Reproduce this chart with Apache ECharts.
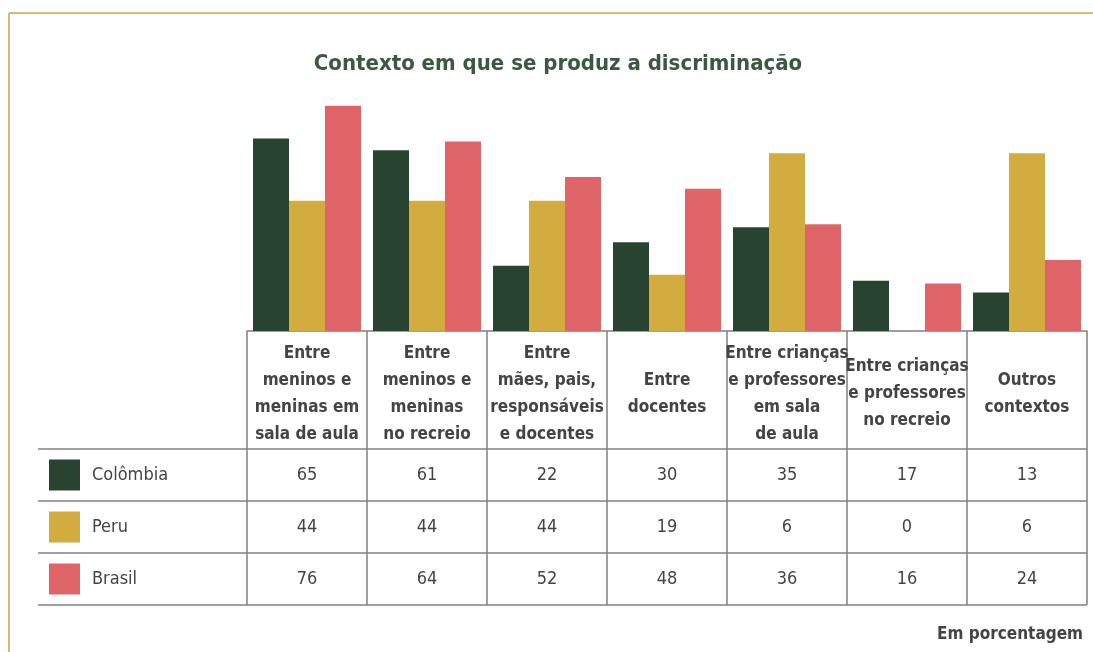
<!DOCTYPE html>
<html>
<head>
<meta charset="utf-8">
<title>Contexto em que se produz a discriminação</title>
<script src="https://cdn.jsdelivr.net/npm/echarts@6/dist/echarts.min.js"></script>
<style>
  html, body { margin: 0; padding: 0; background: #fff; }
  #chart { width: 1093px; height: 652px; }
</style>
</head>
<body>
<div id="chart"></div>
<script>
const categories = [
  "Entre\nmeninos e\nmeninas em\nsala de aula",
  "Entre\nmeninos e\nmeninas\nno recreio",
  "Entre\nmães, pais,\nresponsáveis\ne docentes",
  "Entre\ndocentes",
  "Entre crianças\ne professores\nem sala\nde aula",
  "Entre crianças\ne professores\nno recreio",
  "Outros\ncontextos"
];
const countries = ["Colômbia", "Peru", "Brasil"];
const colombia = [65, 61, 22, 30, 35, 17, 13];
const peru = [44, 44, 44, 19, 60, 0, 60];   // bar heights as drawn
const brasil = [76, 64, 52, 48, 36, 16, 24];
// values as printed in the table (Peru row differs from its bars)
const colombiaPrinted = ["65", "61", "22", "30", "35", "17", "13"];
const peruPrinted = ["44", "44", "44", "19", "6", "0", "6"];
const brasilPrinted = ["76", "64", "52", "48", "36", "16", "24"];
const colors = ["#284430", "#d2ac3e", "#de6468"];

const FONT = "'Liberation Sans Narrow', 'DejaVu Sans Condensed', sans-serif";
const LINE = "#808080";
const TEXT = "#444444";

const chart = echarts.init(document.getElementById("chart"));

const option = {
  animation: false,
  textStyle: { fontFamily: FONT },
  title: {
    text: "Contexto em que se produz a discriminação",
    left: 553,
    textAlign: "center",
    top: 48,
    textStyle: { fontFamily: FONT, fontSize: 22, fontWeight: "bold", color: "#3b5840" }
  },
  grid: { left: 247, right: 6, top: 94, bottom: 321 },
  xAxis: {
    type: "category",
    data: categories,
    axisLine: { lineStyle: { color: LINE, width: 1.5 } },
    axisTick: { show: true, interval: 0, length: 274, lineStyle: { color: LINE, width: 1.5 } },
    axisLabel: {
      interval: 0,
      margin: 63,
      verticalAlign: "middle",
      fontFamily: FONT,
      fontSize: 17,
      fontWeight: "bold",
      lineHeight: 27,
      color: TEXT
    }
  },
  yAxis: { type: "value", min: 0, max: 80, show: false },
  series: [
    { name: countries[0], type: "bar", data: colombia, barWidth: 36, barGap: "0%", itemStyle: { color: colors[0] } },
    { name: countries[1], type: "bar", data: peru, barWidth: 36, barGap: "0%", itemStyle: { color: colors[1] } },
    { name: countries[2], type: "bar", data: brasil, barWidth: 36, barGap: "0%", itemStyle: { color: colors[2] } }
  ]
};
chart.setOption(option);

// table below the axis: rows, legend swatches, printed values
const rowTops = [449, 501, 553];
const rowH = 52;
const tableLeft = 38;
const tableRight = 1087;
const printed = [colombiaPrinted, peruPrinted, brasilPrinted];
const g = [];

// frame
g.push({ type: "line", shape: { x1: 9, y1: 13, x2: 1093, y2: 13 }, style: { stroke: "#d6b96c", lineWidth: 2 } });
g.push({ type: "line", shape: { x1: 9, y1: 13, x2: 9, y2: 652 }, style: { stroke: "#d6b96c", lineWidth: 2 } });

rowTops.concat([rowTops[2] + rowH]).forEach(function (y) {
  g.push({ type: "line", shape: { x1: tableLeft, y1: y, x2: tableRight, y2: y }, style: { stroke: LINE, lineWidth: 1.5 } });
});

rowTops.forEach(function (top, r) {
  const cy = top + rowH / 2;
  g.push({ type: "rect", shape: { x: 49, y: cy - 15.5, width: 31, height: 31 }, style: { fill: colors[r] } });
  g.push({ type: "text", x: 92, y: cy, style: { text: countries[r], fontFamily: FONT, fontSize: 18, fill: TEXT, verticalAlign: "middle" } });
  printed[r].forEach(function (v, i) {
    const x = chart.convertToPixel({ xAxisIndex: 0 }, i);
    g.push({ type: "text", x: x, y: cy, style: { text: v, fontFamily: FONT, fontSize: 18, fill: TEXT, align: "center", verticalAlign: "middle" } });
  });
});

g.push({ type: "text", x: 1083, y: 635, style: { text: "Em porcentagem", fontFamily: FONT, fontSize: 17, fontWeight: "bold", fill: TEXT, align: "right", verticalAlign: "middle" } });

chart.setOption({ graphic: g });
</script>
</body>
</html>
